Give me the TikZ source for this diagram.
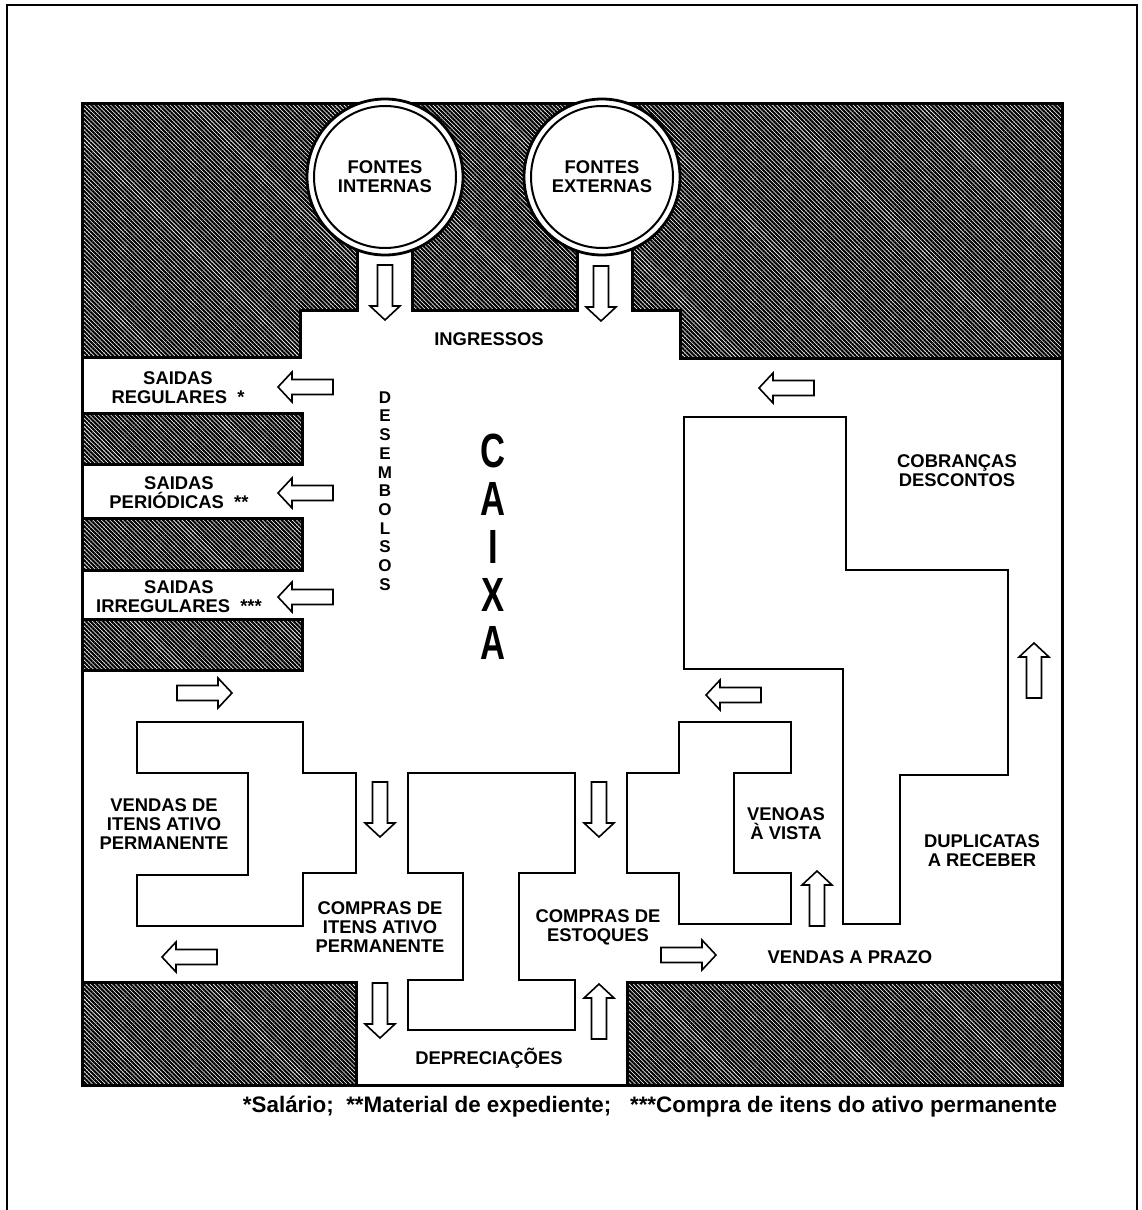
\documentclass[tikz,border=0pt]{standalone}
\usepackage{fontspec}
\setmainfont{Liberation Sans}
\usepackage{graphicx}
\usetikzlibrary{patterns.meta}
\tikzset{
  hatch/.style={pattern={Lines[angle=-45,distance=1.5pt,line width=1.05pt]}, pattern color=black, draw=black, line width=1.5pt},
  flowpoly/.style={draw=black, line width=1pt, fill=white, line join=miter},
  arrowline/.style={draw=black, line width=0.8pt, fill=white, line join=miter},
  lbl/.style={font=\bfseries\fontsize{9.2}{9.6}\selectfont, align=center, inner sep=0pt},
  barrow/.pic={\path[arrowline] (0,-7.5) -- (41,-7.5) -- (41,-15) -- (55,0) -- (41,15) -- (41,7.5) -- (0,7.5) -- cycle;},
}
\newcommand{\cx}[1]{\scalebox{0.72}[1]{#1}}
\begin{document}
\begin{tikzpicture}[x=0.5pt,y=-0.5pt]
% page
\fill[white] (0,0) rectangle (1141,1210);
\useasboundingbox (0,0) rectangle (1141,1210);
% outer frame
\draw[line width=0.8pt] (7,1210) -- (7,5) -- (1137,5) -- (1137,1210);
% hatched walls
\path[hatch] (82,103) -- (357,103) -- (357,310) -- (300,310) -- (300,357) -- (82,357) -- cycle;
\path[hatch] (412,103) rectangle (577,310);
\path[hatch] (632,103) -- (1062,103) -- (1062,358) -- (680,358) -- (680,310) -- (632,310) -- cycle;
\path[hatch] (82,413) rectangle (302,464);
\path[hatch] (82,518) rectangle (302,570);
\path[hatch] (82,619) rectangle (302,670);
\path[hatch] (82,982) rectangle (356,1085);
\path[hatch] (627,982) rectangle (1062,1085);
% main box border
\draw[line width=1.5pt] (82,103) rectangle (1062,1085);
% sources
\draw[line width=1.4pt, fill=white] (385,177) circle (78);
\draw[line width=1pt] (385,177) circle (71);
\draw[line width=1.4pt, fill=white] (602,177) circle (78);
\draw[line width=1pt] (602,177) circle (71);
% flow blocks
\path[flowpoly] (137,722) -- (303,722) -- (303,773) -- (356,773) -- (356,873) -- (303,873) -- (303,926) -- (137,926) -- (137,875) -- (248,875) -- (248,773) -- (137,773) -- cycle;
\path[flowpoly] (408,773) -- (575,773) -- (575,873) -- (519,873) -- (519,980) -- (575,980) -- (575,1030) -- (408,1030) -- (408,980) -- (463,980) -- (463,873) -- (408,873) -- cycle;
\path[flowpoly] (679,722) -- (791,722) -- (791,773) -- (734,773) -- (734,873) -- (791,873) -- (791,924) -- (679,924) -- (679,873) -- (627,873) -- (627,773) -- (679,773) -- cycle;
\path[flowpoly] (684,417) -- (846,417) -- (846,570) -- (1008,570) -- (1008,775) -- (900,775) -- (900,924) -- (843,924) -- (843,669) -- (684,669) -- cycle;
% block arrows
\pic[rotate=-90] at (385,265) {barrow};
\pic[rotate=-90] at (601,266) {barrow};
\pic[rotate=180] at (333,387) {barrow};
\pic[rotate=180] at (333,493) {barrow};
\pic[rotate=180] at (333,597) {barrow};
\pic at (177,693) {barrow};
\pic[rotate=180] at (814,388) {barrow};
\pic[rotate=90] at (1034,698) {barrow};
\pic[rotate=180] at (761,695) {barrow};
\pic[rotate=-90] at (380,782) {barrow};
\pic[rotate=-90] at (599,782) {barrow};
\pic[rotate=90] at (817,926) {barrow};
\pic[rotate=180] at (217,957) {barrow};
\pic at (661,955) {barrow};
\pic[rotate=-90] at (380,983) {barrow};
\pic[rotate=90] at (599,1039) {barrow};
% labels
\node[lbl] (fi) at (385,177) {FONTES\\INTERNAS};
\node[lbl] (fe) at (602,177) {FONTES\\EXTERNAS};
\node[lbl] (ingr) at (489,339) {INGRESSOS};
\node[lbl] (sreg) at (178,388) {SAIDAS\\REGULARES\ \ *};
\node[lbl] (sper) at (179,493) {SAIDAS\\PERIÓDICAS\ \ **};
\node[lbl] (sirr) at (179,597) {SAIDAS\\IRREGULARES\ \ ***};
\node[lbl, font=\bfseries\fontsize{8.5}{9.35}\selectfont] (desemb) at (385,491) {D\\E\\S\\E\\M\\B\\O\\L\\S\\O\\S};
\node[lbl, font=\bfseries\fontsize{24}{24}\selectfont] (caixa) at (493,547) {\cx{C}\\\cx{A}\\\cx{I}\\\cx{X}\\\cx{A}};
\node[lbl] (cob) at (957,471) {COBRANÇAS\\DESCONTOS};
\node[lbl] (vit) at (164,824) {VENDAS DE\\ITENS ATIVO\\PERMANENTE};
\node[lbl] (cit) at (380,927) {COMPRAS DE\\ITENS ATIVO\\PERMANENTE};
\node[lbl] (vav) at (786,824) {VENOAS\\À VISTA};
\node[lbl] (dup) at (982,851) {DUPLICATAS\\A RECEBER};
\node[lbl] (cest) at (598,927) {COMPRAS DE\\ESTOQUES};
\node[lbl] (vap) at (850,957) {VENDAS A PRAZO};
\node[lbl] (depr) at (489,1058) {DEPRECIAÇÕES};
\node[lbl, font=\bfseries\fontsize{11.2}{12}\selectfont] (nota) at (650,1107) {*Salário;\ \ **Material de expediente;\ \ \ ***Compra de itens do ativo permanente};
\end{tikzpicture}
\end{document}
